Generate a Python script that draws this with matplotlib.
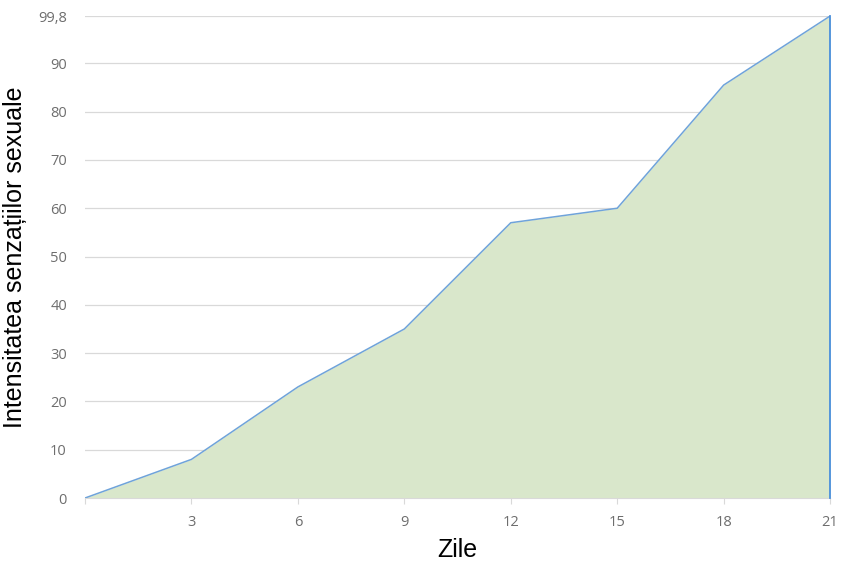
# Grafic de arie: intensitatea senzatiilor pe zile

import matplotlib.pyplot as plt

zile = [0, 3, 6, 9, 12, 15, 18, 21]
intensitate = [0, 8, 23, 35, 57, 60, 85.5, 99.8]

y_ticks = [0, 10, 20, 30, 40, 50, 60, 70, 80, 90, 99.8]
y_labels = ['0', '10', '20', '30', '40', '50', '60', '70', '80', '90', '99,8']
x_ticks = [3, 6, 9, 12, 15, 18, 21]

fig = plt.figure(figsize=(8.54, 5.68), dpi=100)
ax = fig.add_axes([0.0995, 0.1232, 0.8725, 0.8486])

ax.fill_between(zile, intensitate, 0, color='#d9e7cb', linewidth=0, zorder=2)
ax.plot(zile, intensitate, color='#6fa3da', linewidth=1.1, zorder=3)
ax.plot([21, 21], [0, 99.8], color='#4a8fdc', linewidth=1.3, zorder=4, clip_on=False)

ax.set_xlim(0, 21)
ax.set_ylim(0, 99.8)
ax.set_yticks(y_ticks)
ax.set_yticklabels(y_labels)
ax.set_xticks([0] + x_ticks)
ax.set_xticklabels([''] + [str(x) for x in x_ticks])

ax.grid(axis='y', color='#d9d9d9', linewidth=0.9, zorder=1)
for s in ['top', 'right', 'left']:
    ax.spines[s].set_visible(False)
ax.spines['bottom'].set_color('#d9d9d9')
ax.tick_params(axis='y', length=0, pad=13, labelsize=10.5, labelcolor='#6e6e6e')
ax.tick_params(axis='x', length=4, color='#d9d9d9', pad=8, labelsize=10.5, labelcolor='#6e6e6e')
for t in ax.get_xticklabels() + ax.get_yticklabels():
    t.set_family('Open Sans')

ax.set_xlabel('Zile', fontsize=18, family='Liberation Sans')
ax.set_ylabel('Intensitatea senzațiilor sexuale', fontsize=18, family='Liberation Sans')
ax.xaxis.set_label_coords(0.5, -0.083)
ax.yaxis.set_label_coords(-0.078, 0.5)

plt.savefig('out.png', dpi=100)
